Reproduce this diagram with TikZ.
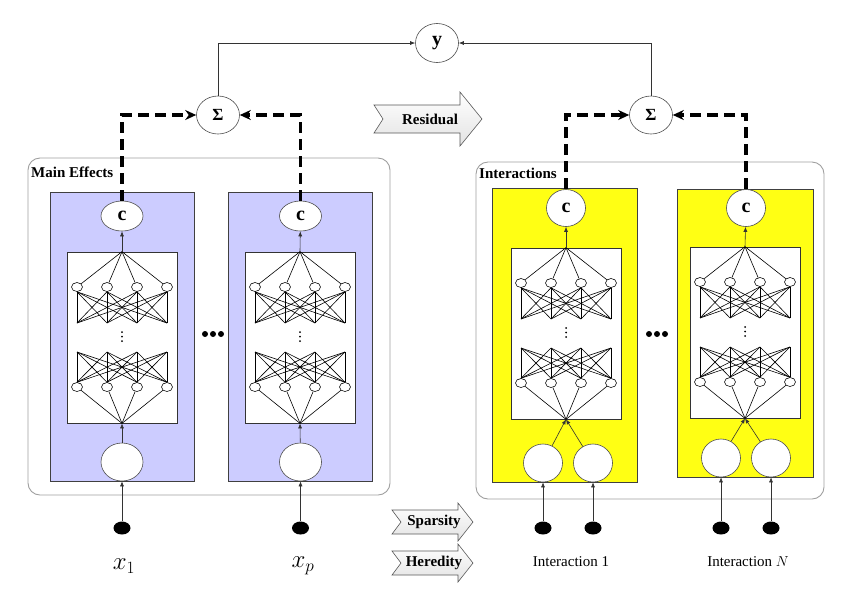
\documentclass[tikz,border=0pt]{standalone}
\usepackage{fontspec}
\setmainfont{Liberation Serif}
\usetikzlibrary{shapes.geometric, arrows.meta, positioning}

\definecolor{mainfill}{RGB}{204,204,255}
\definecolor{intfill}{RGB}{255,255,20}

\tikzset{
  outerbox/.style={draw=gray!75, line width=0.9pt, rounded corners=12pt},
  module/.style={draw=black!75, line width=0.8pt, inner sep=0pt},
  netbox/.style={draw=black!80, fill=white, line width=0.7pt, minimum width=110pt, minimum height=171pt, inner sep=0pt},
  neuron/.style={draw, ellipse, fill=white, minimum width=11pt, minimum height=9pt, inner sep=0pt, line width=0.6pt},
  unitnode/.style={draw=black!70, ellipse, fill=white, inner sep=0pt, minimum width=42pt, minimum height=38pt, font=\fontsize{20}{22}\selectfont\bfseries, line width=0.6pt},
  inp/.style={ellipse, fill=black, minimum width=17pt, minimum height=13pt, inner sep=0pt},
  feed/.style={draw=gray!40!black, line width=0.6pt, -{Latex[length=5pt,width=4pt]}},
  dashlink/.style={line width=3.5pt, dash pattern=on 11pt off 6pt, -{Stealth[length=11pt,width=10pt]}},
  fatarrow/.style={draw=gray!70!black, line width=0.6pt, top color=white, bottom color=gray!22},
  lab/.style={font=\fontsize{15}{18}\selectfont\bfseries, inner sep=0pt},
  txtlab/.style={font=\fontsize{15}{18}\selectfont, inner sep=0pt},
}

\begin{document}
\begin{tikzpicture}[x=1pt, y=-1pt]
  \useasboundingbox (0,0) rectangle (850,590);

  % outer groups
  \draw[outerbox] (28,158) rectangle (390,495);
  \draw[outerbox] (476,162) rectangle (824,499);
  \node[lab, anchor=base west] (mainlab) at (31,177) {Main Effects};
  \node[lab, anchor=base west] (intlab) at (479,178) {Interactions};

  % subnetwork modules
  \node[module, fill=mainfill, minimum width=144pt, minimum height=289pt] (m1) at (122,336.5) {};
  \node[module, fill=mainfill, minimum width=144pt, minimum height=289pt] (m2) at (300.5,336.5) {};
  \node[module, fill=intfill, minimum width=145pt, minimum height=294pt] (m3) at (564.5,335) {};
  \node[module, fill=intfill, minimum width=136pt, minimum height=288pt] (m4) at (745,333) {};

  % networks
  \foreach \k/\cx/\ty in {1/122/252, 2/300/252, 3/566/248, 4/745/247} {
    \node[netbox] (net\k) at (\cx,\ty+85.5) {};
    \foreach \i/\dx in {1/-45, 2/-15, 3/15, 4/45} {
      \node[neuron] (u\k-\i) at (\cx+\dx,\ty+35) {};
      \node[neuron] (v\k-\i) at (\cx+\dx,\ty+135) {};
      \coordinate (p\k-\i) at (\cx+\dx,\ty+71);
      \coordinate (q\k-\i) at (\cx+\dx,\ty+100);
      \draw[line width=0.6pt] (net\k.north) -- (u\k-\i);
      \draw[line width=0.6pt] (v\k-\i) -- (net\k.south);
    }
    \foreach \i in {1,...,4}
      \foreach \j in {1,...,4} {
        \draw[line width=0.6pt] (u\k-\i.south) -- (p\k-\j);
        \draw[line width=0.6pt] (q\k-\i) -- (v\k-\j.north);
      }
    \foreach \dy in {80,84.5,89}
      \fill (\cx,\ty+\dy) circle (1pt);
  }

  % outputs of the modules
  \node[unitnode, minimum height=30pt] (c1) at (122,216) {c};
  \node[unitnode, minimum height=30pt] (c2) at (300.5,216) {c};
  \node[unitnode, minimum width=39pt, minimum height=37pt] (c3) at (566,208) {c};
  \node[unitnode, minimum width=39pt, minimum height=37pt] (c4) at (746,208) {c};
  \foreach \k in {1,...,4}
    \draw[feed] (net\k.north) -- (c\k);

  % inputs
  \node[unitnode] (in1) at (122,462) {};
  \node[unitnode] (in2) at (300.5,462) {};
  \node[unitnode, minimum width=39pt] (in3a) at (543,463) {};
  \node[unitnode, minimum width=39pt] (in3b) at (593,463) {};
  \node[unitnode, minimum width=39pt] (in4a) at (721,458) {};
  \node[unitnode, minimum width=39pt] (in4b) at (771,458) {};
  \draw[feed] (in1) -- (net1.south);
  \draw[feed] (in2) -- (net2.south);
  \draw[feed] (in3a) -- (net3.south);
  \draw[feed] (in3b) -- (net3.south);
  \draw[feed] (in4a) -- (net4.south);
  \draw[feed] (in4b) -- (net4.south);

  \node[inp] (d1) at (122,528) {};
  \node[inp] (d2) at (300.5,528) {};
  \node[inp] (d3a) at (543,528) {};
  \node[inp] (d3b) at (593,528) {};
  \node[inp] (d4a) at (721,528) {};
  \node[inp] (d4b) at (771,528) {};
  \draw[feed] (d1) -- (in1);
  \draw[feed] (d2) -- (in2);
  \draw[feed] (d3a) -- (in3a);
  \draw[feed] (d3b) -- (in3b);
  \draw[feed] (d4a) -- (in4a);
  \draw[feed] (d4b) -- (in4b);

  \node[font=\fontsize{24}{26}\selectfont] (x1) at (124,566) {$x_1$};
  \node[font=\fontsize{24}{26}\selectfont] (xp) at (303,566) {$x_p$};
  \node[txtlab] (int1) at (571,562) {Interaction 1};
  \node[txtlab] (intN) at (748,562) {Interaction $N$};

  \foreach \gx in {213,657}
    \foreach \dx in {-8,0,8}
      \fill (\gx+\dx,334) circle (3pt);

  % sums and response
  \node[unitnode, minimum width=43pt, font=\fontsize{17}{19}\selectfont\bfseries] (s1) at (218,115) {Σ};
  \node[unitnode, minimum width=43pt, font=\fontsize{17}{19}\selectfont\bfseries] (s2) at (651,115) {Σ};
  \node[unitnode, minimum width=43pt, minimum height=39pt] (y) at (437,43) {y};

  \draw[dashlink] (c1.north) |- (s1.west);
  \draw[dashlink] (c2.north) |- (s1.east);
  \draw[dashlink] (c3.north) |- (s2.west);
  \draw[dashlink] (c4.north) |- (s2.east);
  \draw[feed] (s1.north) |- (y.west);
  \draw[feed] (s2.north) |- (y.east);

  % block arrows
  \foreach \nm/\txt/\cy/\xa/\xh/\xb/\bh/\hh/\tx in
      {res/Residual/119/374/460/482/14/27/430,
       spa/Sparsity/522/392/458/473/12/19/434,
       her/Heredity/563/392/458/473/12/19/434} {
    \draw[fatarrow] (\xa,\cy-\bh) -- (\xh,\cy-\bh) -- (\xh,\cy-\hh) -- (\xb,\cy)
      -- (\xh,\cy+\hh) -- (\xh,\cy+\bh) -- (\xa,\cy+\bh) -- (\xa+9,\cy) -- cycle;
    \node[lab] (\nm) at (\tx,\cy) {\txt};
  }
\end{tikzpicture}
\end{document}
